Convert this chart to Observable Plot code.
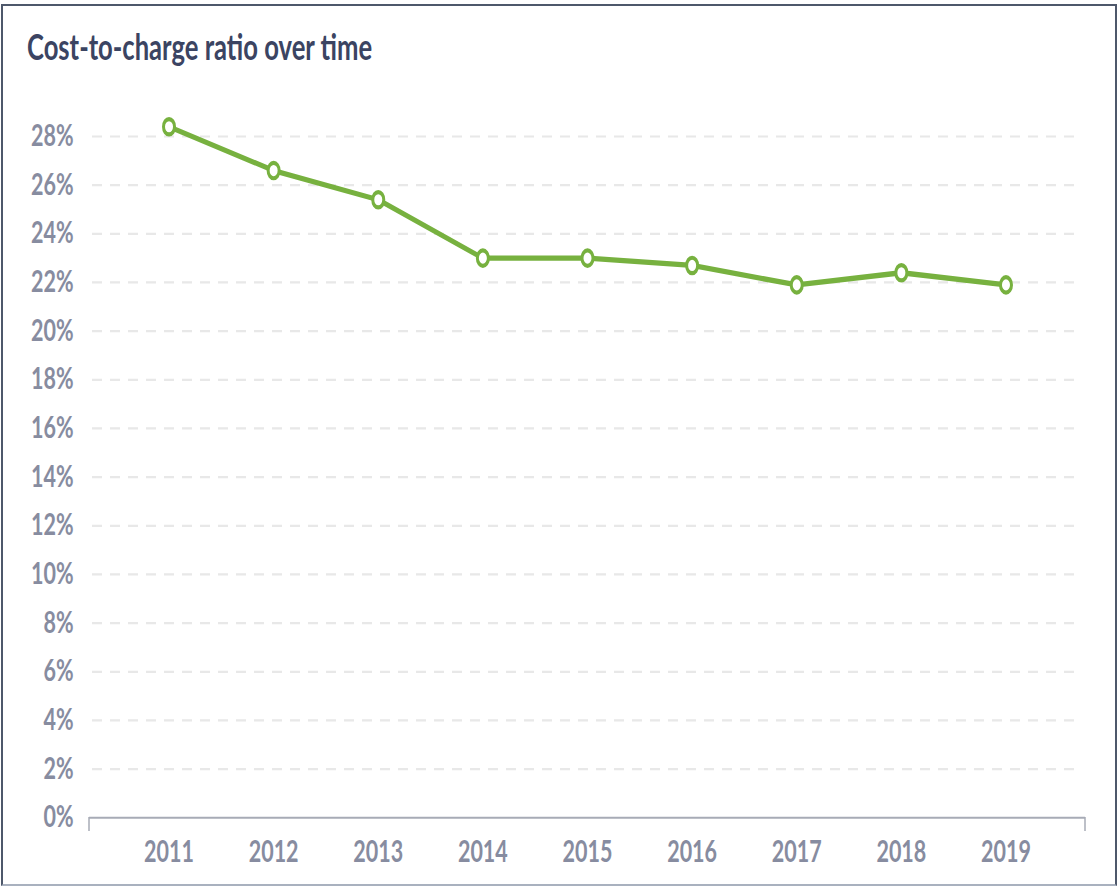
<!DOCTYPE html>
<html>
<head>
<meta charset="utf-8">
<script src="https://cdn.jsdelivr.net/npm/d3@7"></script>
<script src="https://cdn.jsdelivr.net/npm/@observablehq/plot@0.6"></script>
<style>
  html, body { margin: 0; padding: 0; background: #fff; overflow: hidden; }
  #page { position: relative; width: 1119px; height: 887px; overflow: hidden; }
  #stretch { position: absolute; left: 0; top: 0; width: 1119px; height: 634px; transform: scaleY(1.4); transform-origin: 0 0; }
  #title { position: absolute; left: 27px; top: 18px; font-family: Lato, sans-serif; font-weight: 700; font-size: 25.6px; line-height: normal; color: #3b4462; white-space: nowrap; }
  #chart { position: absolute; left: 0; top: 0; }
  #border { position: absolute; left: 1px; top: 4px; width: 1116px; height: 882px; box-sizing: border-box;
            border-top: 2px solid #4e586b; border-left: 2px solid #4e586b; border-right: 2px solid #4e586b; border-bottom: 2px solid #a9b1bf; pointer-events: none; }
</style>
</head>
<body>
<div id="page">
  <div id="stretch">
    <div id="chart"></div>
    <div id="title">Cost-to-charge ratio over time</div>
  </div>
  <div id="border"></div>
</div>
<script>
const years = [2011, 2012, 2013, 2014, 2015, 2016, 2017, 2018, 2019];
const ratios = [28.4, 26.6, 25.4, 23.0, 23.0, 22.7, 21.9, 22.4, 21.9];
const yTicks = [0, 2, 4, 6, 8, 10, 12, 14, 16, 18, 20, 22, 24, 26, 28];

const data = years.map((year, i) => ({year, ratio: ratios[i]}));
const green = "#77b13f";
const axisGray = "#a7abb6";

const bracketEnds = (index, scales, values, dims) => {
  const g = d3.create("svg:g");
  const y0 = scales.y(0);
  for (const x of [dims.marginLeft, dims.width - dims.marginRight]) {
    g.append("line")
      .attr("x1", x).attr("x2", x)
      .attr("y1", y0).attr("y2", y0 + 10)
      .attr("stroke", axisGray).attr("stroke-width", 1.5);
  }
  return g.node();
};

const chart = Plot.plot({
  width: 1119,
  height: 634,
  marginLeft: 89,
  marginRight: 34,
  marginTop: 97,
  marginBottom: 50.4,
  style: {fontFamily: "Lato, sans-serif", fontWeight: 700, fontSize: "21.5px", color: "#878ca0", background: "transparent", overflow: "visible"},
  x: {type: "point", domain: years, padding: 0.76, round: false, label: null, tickSize: 0, tickPadding: 16, tickFormat: d => String(d)},
  y: {domain: [0, 28], ticks: yTicks, tickFormat: d => d + "%", label: null, tickSize: 0, tickPadding: 16},
  marks: [
    Plot.ruleY(yTicks.filter(d => d > 0), {stroke: "#e8e8e8", strokeWidth: 1.6, strokeDasharray: "10,8", insetLeft: 3, insetRight: 8}),
    Plot.ruleY([0], {stroke: axisGray, strokeWidth: 1.5}),
    bracketEnds,
    Plot.line(data, {x: "year", y: "ratio", stroke: green, strokeWidth: 3.8, strokeLinejoin: "round", strokeLinecap: "round"}),
    Plot.dot(data, {x: "year", y: "ratio", r: 5.5, fill: "white", stroke: green, strokeWidth: 3})
  ]
});
document.getElementById("chart").appendChild(chart);
</script>
</body>
</html>
